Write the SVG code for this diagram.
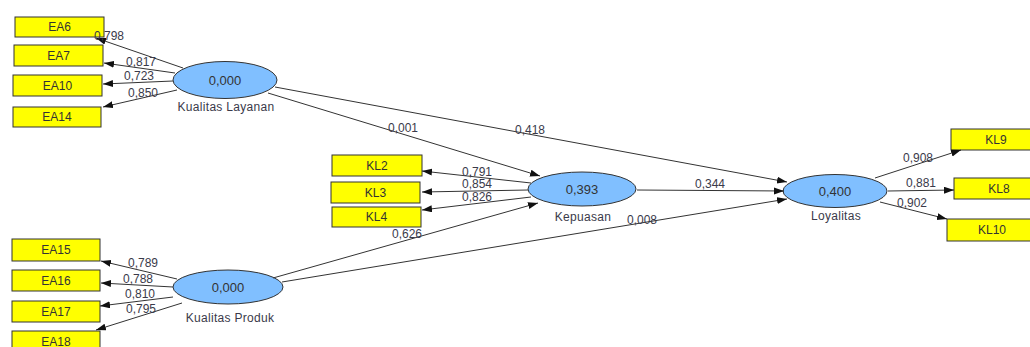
<svg xmlns="http://www.w3.org/2000/svg" width="1030" height="347" viewBox="0 0 1030 347">
  <defs>
    <marker id="arrow" markerUnits="userSpaceOnUse" markerWidth="11" markerHeight="8" refX="10" refY="3.5" orient="auto">
      <path d="M0,0 L10,3.5 L0,7 z" fill="#111"/>
    </marker>
  </defs>
  <style>
    .ind rect { fill: #ffff00; stroke: #333; stroke-width: 1; }
    .ind text { font-family: "Liberation Sans", Arial, sans-serif; font-size: 12px; fill: #333; text-anchor: middle; }
    .lat ellipse { fill: #80bfff; stroke: #333; stroke-width: 1; }
    .lat .val { font-family: "Liberation Sans", Arial, sans-serif; font-size: 13px; fill: #333; text-anchor: middle; }
    .lat .name { font-family: "Liberation Sans", Arial, sans-serif; font-size: 12px; fill: #3a3a4a; text-anchor: middle; letter-spacing: 0.3px; }
    .conn line { stroke: #333; stroke-width: 1; marker-end: url(#arrow); }
    .conn text { font-family: "Liberation Sans", Arial, sans-serif; font-size: 12px; fill: #3a3a4a; text-anchor: middle; }
  </style>
  <rect width="1030" height="347" fill="#ffffff"/>

  <!-- indicators of Kualitas Layanan -->
  <g id="EA6" class="ind"><rect x="15" y="17" width="89" height="20"/><text x="59.5" y="31">EA6</text></g>
  <g id="EA7" class="ind"><rect x="14" y="45" width="89" height="21"/><text x="58.5" y="60">EA7</text></g>
  <g id="EA10" class="ind"><rect x="13" y="75" width="89" height="21"/><text x="57.5" y="90">EA10</text></g>
  <g id="EA14" class="ind"><rect x="13" y="107" width="88" height="20"/><text x="57" y="121">EA14</text></g>

  <!-- indicators of Kepuasan -->
  <g id="KL2" class="ind"><rect x="332" y="155" width="90" height="21"/><text x="377" y="170">KL2</text></g>
  <g id="KL3" class="ind"><rect x="331" y="182" width="89" height="21"/><text x="375.5" y="197">KL3</text></g>
  <g id="KL4" class="ind"><rect x="332" y="207" width="89" height="20"/><text x="376.5" y="221">KL4</text></g>

  <!-- indicators of Kualitas Produk -->
  <g id="EA15" class="ind"><rect x="12" y="239" width="88" height="22"/><text x="56" y="254">EA15</text></g>
  <g id="EA16" class="ind"><rect x="12" y="270" width="88" height="21"/><text x="56" y="285">EA16</text></g>
  <g id="EA17" class="ind"><rect x="12" y="301" width="88" height="21"/><text x="56" y="316">EA17</text></g>
  <g id="EA18" class="ind"><rect x="12" y="331" width="88" height="21"/><text x="56" y="346">EA18</text></g>

  <!-- indicators of Loyalitas -->
  <g id="KL9" class="ind"><rect x="951" y="129" width="90" height="21"/><text x="996" y="144">KL9</text></g>
  <g id="KL8" class="ind"><rect x="954" y="178" width="90" height="21"/><text x="999" y="193">KL8</text></g>
  <g id="KL10" class="ind"><rect x="947" y="219" width="90" height="22"/><text x="992" y="234">KL10</text></g>

  <!-- latent variables -->
  <g id="kualitas-layanan" class="lat">
    <ellipse cx="225" cy="80" rx="52" ry="18.5"/>
    <text class="val" x="225" y="84.5">0,000</text>
    <text class="name" x="226" y="111">Kualitas Layanan</text>
  </g>
  <g id="kepuasan" class="lat">
    <ellipse cx="582" cy="189" rx="54" ry="17"/>
    <text class="val" x="582" y="193.5">0,393</text>
    <text class="name" x="583" y="221">Kepuasan</text>
  </g>
  <g id="loyalitas" class="lat">
    <ellipse cx="835" cy="191" rx="52" ry="16.5"/>
    <text class="val" x="835" y="195.5">0,400</text>
    <text class="name" x="836" y="220">Loyalitas</text>
  </g>
  <g id="kualitas-produk" class="lat">
    <ellipse cx="228" cy="287" rx="55" ry="17"/>
    <text class="val" x="228" y="291.5">0,000</text>
    <text class="name" x="230" y="322">Kualitas Produk</text>
  </g>

  <!-- connectors, drawn last so their weights sit above the boxes -->
  <g id="connectors" class="conn">
    <line x1="183" y1="68" x2="96" y2="38"/>
    <line x1="175" y1="73" x2="104" y2="63"/>
    <line x1="173" y1="81" x2="103" y2="84"/>
    <line x1="177" y1="90" x2="103" y2="107"/>
    <line x1="268" y1="93" x2="540" y2="176"/>
    <line x1="275" y1="87" x2="787" y2="182"/>
    <line x1="531" y1="183" x2="422" y2="171"/>
    <line x1="528" y1="190" x2="422" y2="192"/>
    <line x1="531" y1="197" x2="422" y2="210"/>
    <line x1="637" y1="190" x2="784" y2="191"/>
    <line x1="273" y1="278" x2="538" y2="203"/>
    <line x1="282" y1="282" x2="787" y2="199"/>
    <line x1="177" y1="279" x2="101" y2="261"/>
    <line x1="173" y1="287" x2="101" y2="283"/>
    <line x1="173" y1="297" x2="100" y2="306"/>
    <line x1="182" y1="303" x2="96" y2="330"/>
    <line x1="875" y1="178" x2="961" y2="150"/>
    <line x1="888" y1="191" x2="954" y2="190"/>
    <line x1="880" y1="202" x2="947" y2="219"/>

    <text x="109" y="40">0,798</text>
    <text x="141" y="66">0,817</text>
    <text x="139" y="80">0,723</text>
    <text x="143" y="97">0,850</text>
    <text x="403" y="132">0,001</text>
    <text x="530" y="134">0,418</text>
    <text x="477" y="176">0,791</text>
    <text x="477" y="188">0,854</text>
    <text x="477" y="201">0,826</text>
    <text x="710" y="188">0,344</text>
    <text x="407" y="238">0,626</text>
    <text x="642" y="224">0,008</text>
    <text x="143" y="267">0,789</text>
    <text x="138" y="283">0,788</text>
    <text x="140" y="298">0,810</text>
    <text x="141" y="313">0,795</text>
    <text x="918" y="162">0,908</text>
    <text x="921" y="187">0,881</text>
    <text x="912" y="207">0,902</text>
  </g>
</svg>
